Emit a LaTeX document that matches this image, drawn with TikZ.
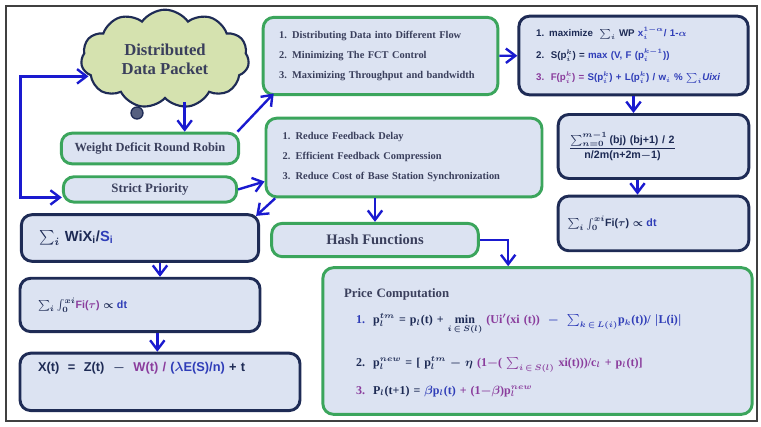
\documentclass[tikz,border=0pt]{standalone}
\usepackage{amsmath}
\usepackage{fontspec}
\setmainfont{Liberation Serif}
\setsansfont{Liberation Sans}
\usetikzlibrary{arrows.meta,positioning,shapes.symbols}
\definecolor{grn}{HTML}{3BA55C}
\definecolor{pale}{HTML}{DCE3F2}
\definecolor{navy}{HTML}{1E2B55}
\definecolor{flow}{HTML}{1A1ACF}
\definecolor{leaf}{HTML}{D5E2AF}
\definecolor{ink}{HTML}{3A3F5C}
\definecolor{fblue}{HTML}{2F3DB8}
\definecolor{fpurp}{HTML}{8A3C9C}
\tikzset{
  gbox/.style={draw=grn, line width=2.2pt, rounded corners=8pt, fill=pale, text=ink,
               font=\bfseries\fontsize{7.8}{15}\selectfont},
  nbox/.style={draw=navy, line width=2.2pt, rounded corners=8pt, fill=pale, text=navy,
               font=\sffamily\bfseries\boldmath\fontsize{8}{16}\selectfont},
  arr/.style={-{Straight Barb[length=2.5mm,width=3.8mm]}, line width=1.8pt, draw=flow},
  both/.style={{Straight Barb[length=2.5mm,width=3.8mm]}-{Straight Barb[length=2.5mm,width=3.8mm]},
               line width=1.8pt, draw=flow},
}

\begin{document}
\begin{tikzpicture}[x=0.75pt, y=-0.75pt]
\useasboundingbox (0,0) rectangle (761,426);
\draw[line width=1.1pt, black!75] (6,6) rectangle (757,421);

% scheduling side
\node[cloud, cloud puffs=11, cloud puff arc=110, aspect=1.8, draw=navy, line width=1.6pt, fill=leaf,
      minimum width=126pt, minimum height=74pt, align=center, text=ink,
      font=\bfseries\fontsize{12.5}{14.5}\selectfont] (packet) at (165,59) {Distributed\\Data Packet};
\node[circle, draw=navy, fill=navy!75, line width=1pt, minimum size=9pt, inner sep=0pt] (puff) at (137,113) {};
\node[gbox, minimum width=133pt, minimum height=23pt, font=\bfseries\fontsize{9.3}{11}\selectfont] (wdrr) at (150,148.5) {Weight Deficit Round Robin};
\node[gbox, below=7.5pt of wdrr, minimum width=130pt, minimum height=19pt, font=\bfseries\fontsize{9.6}{11}\selectfont] (strict) {Strict Priority};

% goals
\node[gbox, align=left, text width=152pt, inner xsep=12pt, minimum height=58pt] (flows) at (380.5,56)
  {1. Distributing Data into Different Flow\\ 2. Minimizing The FCT Control\\ 3. Maximizing Throughput and bandwidth};
\node[gbox, align=left, text width=182pt, inner xsep=12.5pt, minimum height=59pt] (feedback) at (404,157.5)
  {1. Reduce Feedback Delay\\ 2. Efficient Feedback Compression\\ 3. Reduce Cost of Base Station Synchronization};
\node[gbox, minimum width=155pt, minimum height=25pt, font=\bfseries\fontsize{10.9}{12}\selectfont] (hash) at (375,240) {Hash Functions};

% utility side
\node[nbox, align=left, text width=146pt, inner xsep=13pt, minimum height=59pt, font=\sffamily\bfseries\boldmath\fontsize{7.3}{16.5}\selectfont] (maxim) at (633.5,55.5)
  {1. maximize\ \ $\sum_i$ WP {\color{fblue}x$_i^{1-\alpha}$/ 1-$\alpha$}\\
   2.\ \ S(p$_i^k$) = {\color{fblue}max (V, F (p$_i^{k-1}$))}\\
   {\color{fpurp}3.\ \ F(p$_i^k$) = }{\color{fblue}S(p$_i^k$) + L(p$_i^k$) / w$_i$ \% $\sum_i$\textit{Uixi}}};
\node[nbox, align=left, text width=127pt, inner xsep=8pt, minimum height=48pt] (frac) at (653.5,146.5)
  {$\displaystyle\frac{\sum_{n=0}^{m-1}\text{(bj) (bj+1) / 2}}{\text{n/2m(n+2m$-$1)}}$};
\node[nbox, below=11pt of frac, align=left, text width=129pt, inner xsep=7pt, minimum height=41pt] (integR)
  {$\sum_i\int_0^{xi}$Fi($\tau$) $\propto$\ {\color{fblue}dt}};

% queue side
\node[nbox, align=left, text width=151pt, inner xsep=13.5pt, minimum height=35pt, font=\sffamily\bfseries\boldmath\fontsize{11}{13}\selectfont] (sumW) at (140,238)
  {$\sum_i$ WiX\textsubscript{i}/{\color{fblue}S\textsubscript{i}}};
\node[nbox, below=10.5pt of sumW, align=left, text width=153pt, inner xsep=13.5pt, minimum height=40pt] (integL)
  {$\sum_i\int_0^{xi}${\color{fpurp}Fi($\tau$)} $\propto$\ {\color{fblue}dt}};
\node[nbox, below=14pt of integL.south west, anchor=north west, align=left, text width=183pt, inner xsep=13.5pt,
      inner ysep=4pt, text height=10pt, text depth=25pt, font=\sffamily\bfseries\boldmath\fontsize{9.6}{12}\selectfont] (xt)
  {X(t)\ \ =\ \ Z(t)\ \ $-$\ \ {\color{fpurp}W(t) /} {\color{fblue}($\lambda$E(S)/n)} + t};

% price
\node[gbox, align=left, text width=290pt, inner xsep=16pt, inner ysep=4pt, text height=18pt, text depth=84pt,
      font=\bfseries\boldmath\fontsize{9}{10}\selectfont] (price) at (537.5,341)
  {{\color{ink}\fontsize{9.6}{11}\selectfont Price Computation}\\[10pt]
   \hspace*{9pt}{\color{fblue}1.}\ \ {\color{navy}p$_l^{tm}$ = p$_l$(t) + $\min\limits_{i\,\in\,S(l)}$} {\color{fpurp}(Ui$'$(xi (t))} {\color{fblue}\ $-$\ \ $\sum_{k\,\in\,L(i)}$p$_k$(t))/ $|$L(i)$|$}\\[15pt]
   \hspace*{9pt}{\color{navy}2.\ \ p$_l^{new}$ = [ p$_l^{tm}$ $-$ $\eta$} {\color{fpurp}(1$-$( $\sum_{i\,\in\,S(l)}$ xi(t)))/c$_l$ + p$_l$(t)]}\\[9pt]
   \hspace*{9pt}{\color{fpurp}3.}\ \ {\color{navy}P$_l$(t+1) =} {\color{fblue}$\beta$p$_l$(t)} {\color{fpurp}+ (1$-\beta$)p$_l^{new}$}};

% connectors
\draw[arr] ([xshift=26pt,yshift=22pt]wdrr.north) -- ([xshift=26pt]wdrr.north);
\draw[both] ([xshift=6pt,yshift=-13pt]packet.west) -- ++(-51pt,0) |- ([yshift=-6pt]strict.west);
\draw[arr] ([xshift=-2pt]wdrr.north east) -- ([xshift=9pt,yshift=2pt]flows.south west);
\draw[arr] (strict.east) -- ([yshift=-18pt]feedback.west);
\draw[arr] (flows) -- (maxim);
\draw[arr] (maxim.south) -- (maxim.south |- frac.north);
\draw[arr] ([xshift=-12pt]frac.south) -- ([xshift=-12pt]integR.north);
\draw[arr] ([xshift=8pt]feedback.south west) -- ([xshift=-3pt,yshift=-2pt]sumW.north east);
\draw[arr] (feedback.south -| hash.north) -- (hash.north);
\draw[arr] (hash.east) -| ([xshift=-22pt]price.north);
\draw[arr] ([xshift=15pt]sumW.south) -- ([xshift=15pt]sumW.south |- integL.north);
\draw[arr] ([xshift=13pt]integL.south) -- ([xshift=13pt]integL.south |- xt.north);
\end{tikzpicture}
\end{document}
